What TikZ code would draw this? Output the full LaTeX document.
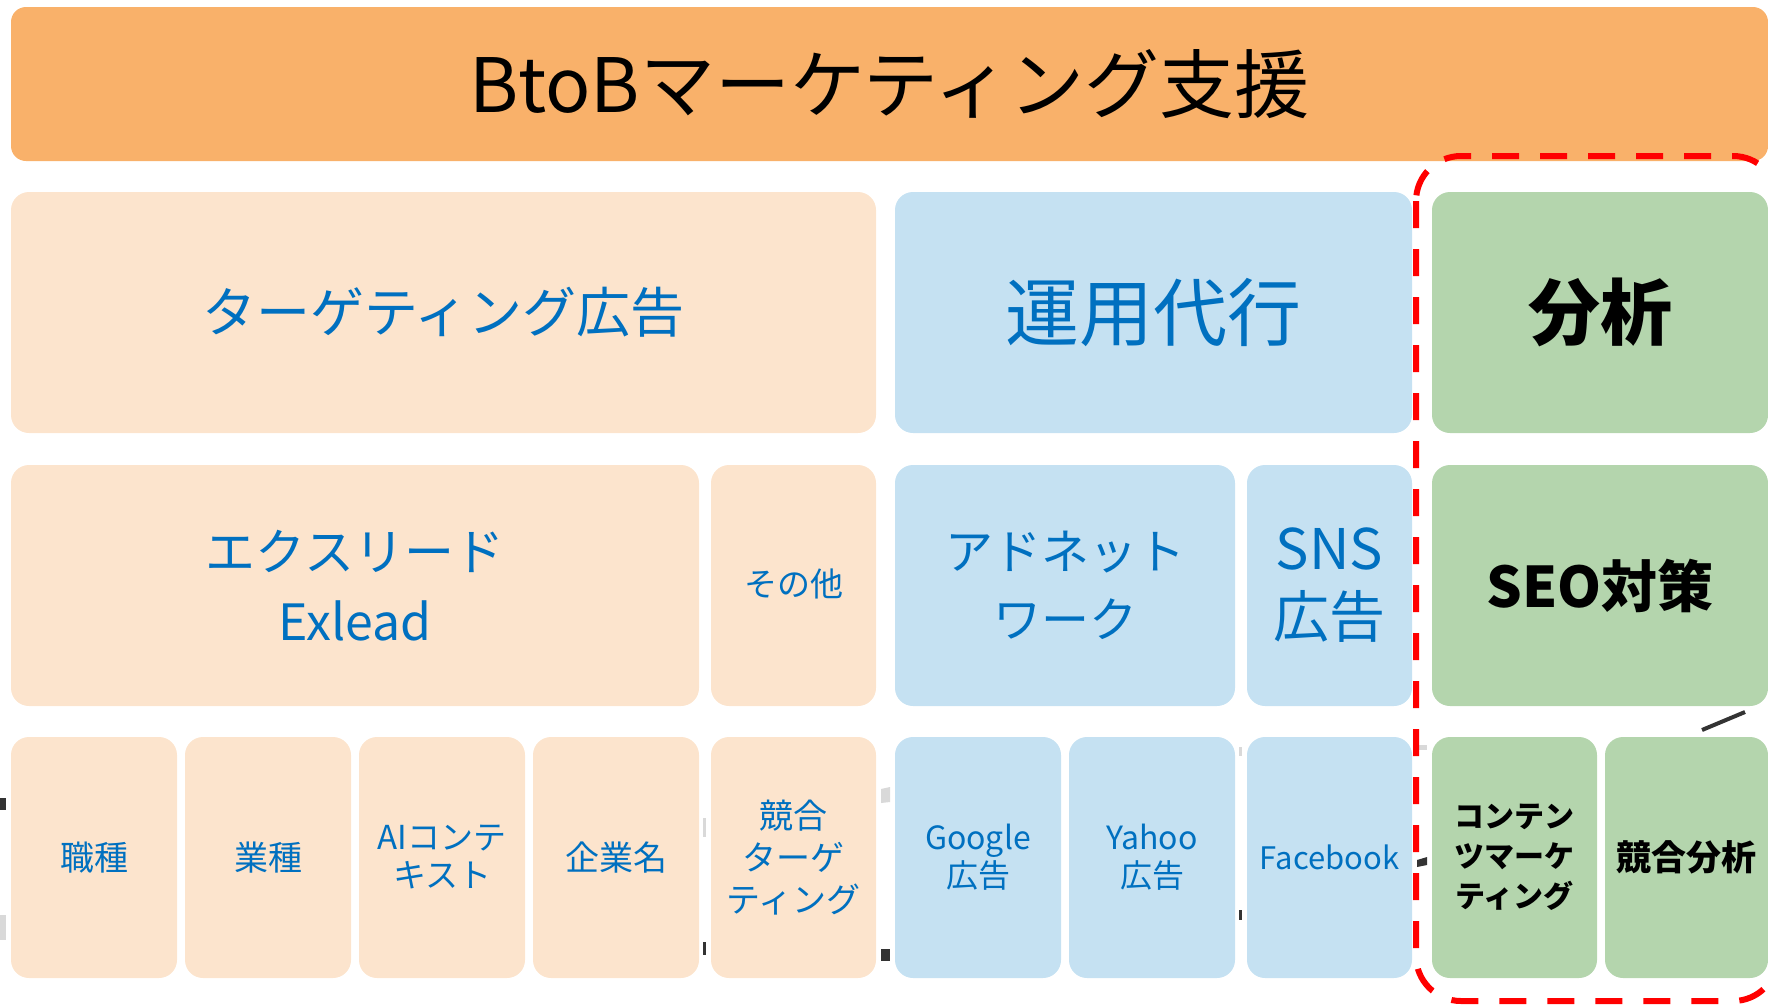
\documentclass[tikz,border=0pt]{standalone}
\usepackage{fontspec}
\setmainfont{Noto Sans CJK JP}
\usepackage{tikz}

\definecolor{titleorange}{HTML}{F9B16A}
\definecolor{paleorange}{HTML}{FCE4CD}
\definecolor{paleblue}{HTML}{C5E1F2}
\definecolor{palegreen}{HTML}{B4D5AD}
\definecolor{textblue}{HTML}{0070C0}
\definecolor{markgrey}{HTML}{D9D9D9}
\definecolor{markdark}{HTML}{333333}

\begin{document}
\begin{tikzpicture}[x=1pt,y=-1pt,
	box/.style={shape=rectangle,rounded corners=18pt,inner sep=0pt,outer sep=0pt,align=center,minimum height=241pt},
	orangebox/.style={box,fill=paleorange,text=textblue},
	bluebox/.style={box,fill=paleblue,text=textblue},
	greenbox/.style={box,fill=palegreen,text=black}]
	
	\useasboundingbox (0,0) rectangle (1768,1005);
	
	% small leftover marks between the boxes
	\fill[markdark] (0,798) rectangle (6,810);
	\fill[markgrey] (0,915) rectangle (6,940);
	\fill[markgrey] (703,818) rectangle (706,837);
	\fill[markdark] (703,942) rectangle (706,955);
	\fill[markgrey] (881,789) -- (890,787) -- (890,802) -- (881,803) -- cycle;
	\fill[markdark] (881,949) rectangle (890,961);
	\fill[markgrey] (1239,747) rectangle (1242,756);
	\fill[markdark] (1239,910) rectangle (1242,920);
	\fill[markgrey] (1417,745) rectangle (1427,750);
	\fill[markdark] (1417,860) -- (1427,857) -- (1427,865) -- (1417,867) -- cycle;
	\draw[markdark,line width=4pt] (1702,730) -- (1745,712);
	
	\node[shape=rectangle,rounded corners=15pt,fill=titleorange,minimum width=1757pt,minimum height=154pt,inner sep=0pt,font=\fontsize{75}{90}\selectfont] (title) at (889.5,84) {BtoBマーケティング支援};
	
	\node[orangebox,minimum width=865pt,font=\fontsize{54}{64}\selectfont] (tgt)     at (443.5,312.5)  {\raisebox{6pt}{ターゲティング広告}};
	\node[bluebox,minimum width=517pt,font=\fontsize{74}{84}\selectfont]   (unyo)    at (1153.5,312.5) {\raisebox{6pt}{運用代行}};
	\node[greenbox,minimum width=336pt,font=\bfseries\fontsize{72}{82}\selectfont] (bunseki) at (1600,312.5) {\raisebox{5pt}{分析}};
	
	\node[orangebox,minimum width=688pt,font=\fontsize{50}{70}\selectfont] (exlead) at (355,585.5)    {エクスリード\\Exlead};
	\node[orangebox,minimum width=165pt,font=\fontsize{33}{40}\selectfont] (sonota) at (793.5,585.5)  {\raisebox{5pt}{その他}};
	\node[bluebox,minimum width=340pt,font=\fontsize{48}{68}\selectfont]   (adnet)  at (1065,585.5)   {アドネット\\ワーク};
	\node[bluebox,minimum width=165pt,font=\fontsize{56}{68}\selectfont]   (sns)    at (1329.5,585.5) {SNS\\広告};
	\node[greenbox,minimum width=336pt,font=\bfseries\fontsize{56}{66}\selectfont] (seo) at (1600,585.5) {SEO対策};
	
	\node[orangebox,minimum width=166pt,font=\fontsize{34}{42}\selectfont] (shokushu) at (94,857.5)  {\raisebox{3pt}{職種}};
	\node[orangebox,minimum width=166pt,font=\fontsize{34}{42}\selectfont] (gyoshu)   at (268,857.5) {\raisebox{3pt}{業種}};
	\node[orangebox,minimum width=166pt,font=\fontsize{33}{38}\selectfont] (aictx)    at (442,857.5) {AIコンテ\\キスト};
	\node[orangebox,minimum width=166pt,font=\fontsize{34}{42}\selectfont] (kigyo)    at (616,857.5) {\raisebox{3pt}{企業名}};
	\node[orangebox,minimum width=165pt,font=\fontsize{34}{42}\selectfont] (kyogo)    at (793.5,857.5) {競合\\ターゲ\\ティング};
	\node[bluebox,minimum width=166pt,font=\fontsize{32}{38}\selectfont]   (google)   at (978,857.5)  {Google\\広告};
	\node[bluebox,minimum width=166pt,font=\fontsize{32}{38}\selectfont]   (yahoo)    at (1152,857.5) {Yahoo\\広告};
	\node[bluebox,minimum width=165pt,font=\fontsize{31}{38}\selectfont]   (fb)       at (1329.5,857.5) {Facebook};
	\node[greenbox,minimum width=165pt,font=\bfseries\fontsize{30}{40}\selectfont] (content) at (1514.5,857.5) {コンテン\\ツマーケ\\ティング};
	\node[greenbox,minimum width=163pt,font=\bfseries\fontsize{35}{42}\selectfont] (kyobun)  at (1686.5,857.5) {競合分析};
	
	% the dashed frame round the right column
	\draw[red,line width=6pt,dash pattern=on 27pt off 21pt,rounded corners=45pt] (1416,156) rectangle (1778,1001);
	
\end{tikzpicture}
\end{document}
